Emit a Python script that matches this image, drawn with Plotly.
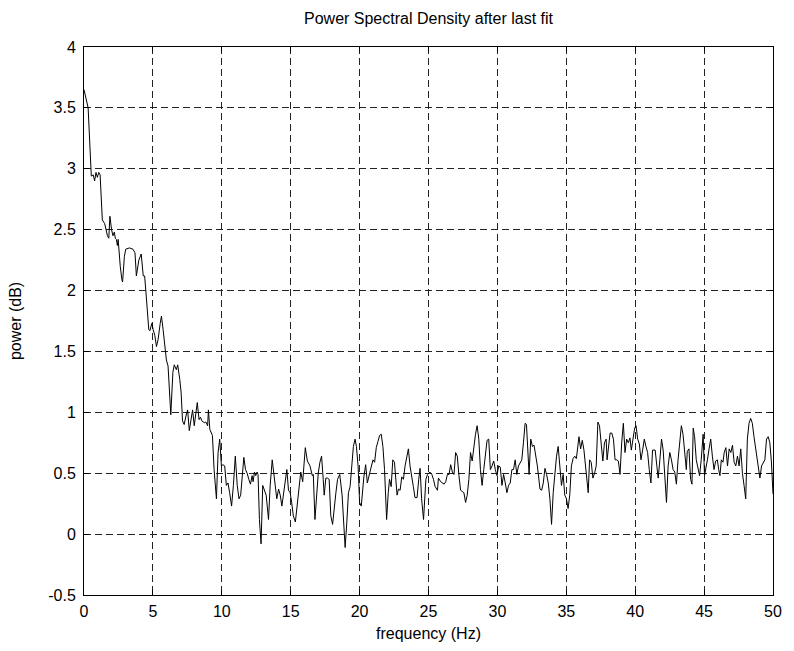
import plotly.graph_objects as go

freq_hz = [
    0.0, 0.3, 0.53, 0.67, 0.77, 0.87, 0.97, 1.07, 1.17, 1.33, 1.5, 1.6, 1.7, 1.8, 1.88,
    2.0, 2.1, 2.2, 2.27, 2.35, 2.42, 2.48, 2.55, 2.63, 2.75, 2.8, 2.93, 3.03, 3.3, 3.55,
    3.7, 3.8, 3.98, 4.15, 4.3, 4.4, 4.5, 4.6, 4.7, 4.78, 4.92, 5.02, 5.14, 5.26, 5.38,
    5.53, 5.62, 5.74, 5.86, 5.98, 6.1, 6.22, 6.3, 6.45, 6.55, 6.7, 6.8, 6.95, 7.05, 7.15,
    7.27, 7.4, 7.52, 7.64, 7.76, 7.88, 8.0, 8.1, 8.22, 8.35, 8.45,
    8.55, 8.73, 8.85, 8.97, 9.03, 9.13, 9.32, 9.44, 9.61, 9.73, 9.85, 9.97, 10.08, 10.21,
    10.33, 10.45, 10.57, 10.71, 10.84, 10.98, 11.12, 11.25, 11.37, 11.49, 11.6, 11.72,
    11.84, 11.96, 12.08, 12.2, 12.27, 12.37, 12.46, 12.56, 12.63, 12.73, 12.85, 12.97,
    13.08, 13.22, 13.39, 13.51, 13.66, 13.75, 13.87, 13.99, 14.12, 14.24, 14.36, 14.48,
    14.6, 14.72, 14.84, 14.96, 15.07, 15.19, 15.34, 15.48, 15.63, 15.73, 15.87, 15.99,
    16.06, 16.21, 16.4, 16.57,
    16.64, 16.76, 16.88, 17.0, 17.12, 17.24, 17.36, 17.43, 17.55, 17.67, 17.79, 17.91,
    18.04, 18.16, 18.28, 18.4, 18.56, 18.73, 18.85, 18.95, 19.07, 19.19, 19.31, 19.43,
    19.55, 19.67, 19.77, 19.89, 20.0, 20.12, 20.19, 20.31, 20.44, 20.56, 20.73, 20.85,
    20.97, 21.09, 21.21, 21.33, 21.45, 21.57, 21.69, 21.81, 21.96, 22.08, 22.17, 22.29,
    22.41, 22.53, 22.6, 22.72, 22.82, 22.94, 23.06, 23.18, 23.3, 23.42, 23.54, 23.66,
    23.78, 23.9, 24.02, 24.17, 24.29, 24.39, 24.5, 24.64,
    24.81, 24.93, 25.1, 25.24, 25.36, 25.48, 25.65, 25.72, 25.89, 26.01, 26.13, 26.25,
    26.37, 26.49, 26.61, 26.73, 26.85, 26.97, 27.09, 27.21, 27.33, 27.45, 27.57, 27.69,
    27.81, 27.93, 28.05, 28.17, 28.29, 28.41, 28.53, 28.65, 28.77, 28.89, 29.01, 29.13,
    29.25, 29.37, 29.49, 29.61, 29.73, 29.85, 29.97, 30.09, 30.21, 30.33, 30.45, 30.57,
    30.69, 30.81, 30.93, 31.05, 31.17, 31.29, 31.41, 31.53, 31.65, 31.77, 31.89, 32.01,
    32.11, 32.2, 32.3, 32.42, 32.54, 32.66, 32.78, 32.9, 33.09,
    33.21, 33.33, 33.45, 33.57, 33.69, 33.81, 33.93, 34.05, 34.17, 34.29, 34.41, 34.53,
    34.65, 34.77, 34.89, 35.01, 35.13, 35.25, 35.37, 35.49, 35.61, 35.73, 35.85, 35.92,
    36.04, 36.16, 36.28, 36.4, 36.5, 36.59, 36.69, 36.81, 36.93, 37.05, 37.17, 37.29,
    37.41, 37.53, 37.65, 37.77, 37.89, 37.96, 38.08, 38.18, 38.3, 38.42, 38.54, 38.66,
    38.78, 38.9, 39.02, 39.14, 39.26, 39.38, 39.5, 39.62, 39.72, 39.84, 39.96, 40.06,
    40.18, 40.3, 40.42, 40.54, 40.66, 40.78, 40.9, 41.02, 41.14, 41.26, 41.45,
    41.57, 41.67, 41.79, 41.91, 42.03, 42.15, 42.27, 42.39, 42.51, 42.63, 42.75, 42.87,
    42.99, 43.11, 43.23, 43.35, 43.47, 43.59, 43.71, 43.78, 43.9, 44.02, 44.12, 44.21,
    44.31, 44.43, 44.55, 44.67, 44.79, 44.86, 44.93, 45.03, 45.12, 45.24, 45.36, 45.48,
    45.6, 45.72, 45.84, 45.96, 46.06, 46.15, 46.25, 46.37, 46.46, 46.58, 46.7, 46.82,
    46.94, 47.06, 47.18, 47.3, 47.42, 47.54, 47.66, 47.78, 47.9, 48.02, 48.14, 48.26,
    48.38, 48.5, 48.62, 48.74, 48.86, 48.98, 49.05, 49.17, 49.29, 49.41, 49.53, 49.65,
    49.77, 49.88, 50.0,
]

power_db = [
    3.65, 3.5, 2.94, 2.95, 2.9, 2.97, 2.93, 2.97, 2.95, 2.58, 2.55, 2.5, 2.45, 2.43, 2.61,
    2.5, 2.45, 2.48, 2.43, 2.42, 2.37, 2.42, 2.27, 2.2, 2.09, 2.07, 2.28, 2.34, 2.35, 2.34,
    2.31, 2.12, 2.25, 2.3, 2.12, 2.12, 1.98, 1.79, 1.68, 1.67, 1.73, 1.68, 1.63, 1.54, 1.6,
    1.73, 1.79, 1.68, 1.52, 1.43, 1.38, 1.16, 0.98, 1.33, 1.39, 1.35, 1.39, 1.27, 1.16, 0.93,
    0.9, 0.97, 1.02, 0.85, 0.94, 1.02, 0.89, 1.0, 1.08, 0.94, 0.96,
    0.93, 0.915, 0.92, 0.89, 1.02, 0.86, 0.81, 0.53, 0.29, 0.67, 0.78, 0.56, 0.57, 0.56,
    0.40, 0.42, 0.34, 0.23, 0.40, 0.64, 0.40, 0.29, 0.32, 0.48, 0.63, 0.53,
    0.5, 0.45, 0.41, 0.48, 0.43, 0.51, 0.48, 0.51, 0.49, 0.12, -0.08, 0.40,
    0.37, 0.32, 0.12, 0.40, 0.61, 0.51, 0.43, 0.29, 0.37, 0.32, 0.23, 0.34,
    0.43, 0.53, 0.36, 0.34, 0.26, 0.15, 0.10, 0.26, 0.45, 0.51, 0.43, 0.61,
    0.71, 0.6, 0.56, 0.48,
    0.49, 0.12, 0.34, 0.5, 0.59, 0.64, 0.45, 0.32, 0.46, 0.46, 0.45, 0.15,
    0.08, 0.23, 0.34, 0.45, 0.49, 0.32, 0.07, -0.11, 0.09, 0.34, 0.39, 0.53,
    0.72, 0.78, 0.72, 0.56, 0.26, 0.23, 0.34, 0.47, 0.57, 0.42, 0.5, 0.56,
    0.61, 0.59, 0.71, 0.76, 0.81, 0.82, 0.72, 0.53, 0.12, 0.34, 0.45, 0.39,
    0.61, 0.59, 0.45, 0.32, 0.37, 0.36, 0.47, 0.45, 0.56, 0.64, 0.70, 0.56,
    0.45, 0.39, 0.30, 0.30, 0.45, 0.54, 0.29, 0.12,
    0.45, 0.49, 0.51, 0.49, 0.45, 0.39, 0.36, 0.46, 0.43, 0.42, 0.41, 0.43,
    0.49, 0.49, 0.57, 0.51, 0.49, 0.67, 0.64, 0.48, 0.36, 0.35, 0.34, 0.26,
    0.32, 0.45, 0.67, 0.60, 0.72, 0.82, 0.89, 0.78, 0.53, 0.40, 0.53, 0.67,
    0.77, 0.78, 0.53, 0.56, 0.60, 0.53, 0.48, 0.56, 0.55, 0.40, 0.49, 0.42,
    0.34, 0.40, 0.42, 0.53, 0.53, 0.61, 0.49, 0.56, 0.59, 0.61, 0.75, 0.91,
    0.90, 0.70, 0.49, 0.78, 0.72, 0.73, 0.64, 0.56, 0.37,
    0.36, 0.42, 0.54, 0.49, 0.42, 0.29, 0.08, 0.34, 0.53, 0.64, 0.72, 0.56,
    0.40, 0.49, 0.32, 0.29, 0.21, 0.32, 0.56, 0.62, 0.64, 0.62, 0.72, 0.80,
    0.70, 0.77, 0.69, 0.56, 0.48, 0.34, 0.61, 0.59, 0.46, 0.50, 0.56, 0.92,
    0.89, 0.72, 0.60, 0.75, 0.78, 0.61, 0.72, 0.83, 0.83, 0.78, 0.61, 0.61,
    0.60, 0.49, 0.75, 0.91, 0.67, 0.78, 0.75, 0.79, 0.69, 0.80, 0.87, 0.89,
    0.78, 0.74, 0.61, 0.69, 0.78, 0.72, 0.67, 0.53, 0.42, 0.69, 0.69,
    0.56, 0.46, 0.61, 0.78, 0.69, 0.50, 0.26, 0.56, 0.67, 0.61, 0.53, 0.51,
    0.41, 0.61, 0.75, 0.89, 0.82, 0.64, 0.53, 0.68, 0.70, 0.45, 0.41, 0.87,
    0.80, 0.61, 0.53, 0.48, 0.61, 0.78, 0.82, 0.48, 0.53, 0.61, 0.70, 0.78,
    0.64, 0.53, 0.60, 0.61, 0.53, 0.48, 0.61, 0.59, 0.67, 0.71, 0.56, 0.70,
    0.67, 0.73, 0.59, 0.56, 0.64, 0.56, 0.70, 0.50, 0.40, 0.29, 0.78, 0.91,
    0.95, 0.91, 0.80, 0.70, 0.60, 0.50, 0.46, 0.56, 0.59, 0.61, 0.78, 0.80,
    0.75, 0.60, 0.33,
]

x_ticks = [0, 5, 10, 15, 20, 25, 30, 35, 40, 45, 50]
x_ticktext = ["0", "5", "10", "15", "20", "25", "30", "35", "40", "45", "50"]
y_ticks = [-0.5, 0, 0.5, 1, 1.5, 2, 2.5, 3, 3.5, 4]
y_ticktext = ["-0.5", "0", "0.5", "1", "1.5", "2", "2.5", "3", "3.5", "4"]

font_family = "Liberation Sans, Arial, sans-serif"

fig = go.Figure()
fig.add_trace(go.Scatter(
    x=freq_hz, y=power_db, mode="lines",
    line=dict(color="black", width=1),
    showlegend=False,
))

axis_common = dict(
    showline=True, mirror="ticks", linecolor="black", linewidth=1,
    ticks="inside", ticklen=5, tickcolor="black", tickwidth=1,
    showgrid=True, gridcolor="#222222", gridwidth=1, griddash="7px,4px",
    zeroline=False,
    tickfont=dict(family=font_family, size=16, color="black"),
)

fig.update_layout(
    width=794, height=651,
    paper_bgcolor="white", plot_bgcolor="white",
    margin=dict(l=84, r=16, t=47, b=55),
    title=dict(
        text="Power Spectral Density after last fit",
        x=0.5, xref="paper", xanchor="center",
        y=1 - 18 / 651, yref="container", yanchor="middle",
        font=dict(family=font_family, size=16, color="black"),
    ),
    xaxis=dict(
        range=[0, 50], tickvals=x_ticks, ticktext=x_ticktext,
        ticklabelstandoff=2,
        title=dict(text="frequency (Hz)", standoff=8,
                   font=dict(family=font_family, size=16, color="black")),
        **axis_common,
    ),
    yaxis=dict(
        range=[-0.5, 4], tickvals=y_ticks, ticktext=y_ticktext,
        ticklabelstandoff=4,
        title=dict(text="power (dB)", standoff=22,
                   font=dict(family=font_family, size=16, color="black")),
        **axis_common,
    ),
)

fig.write_html("out.html")
